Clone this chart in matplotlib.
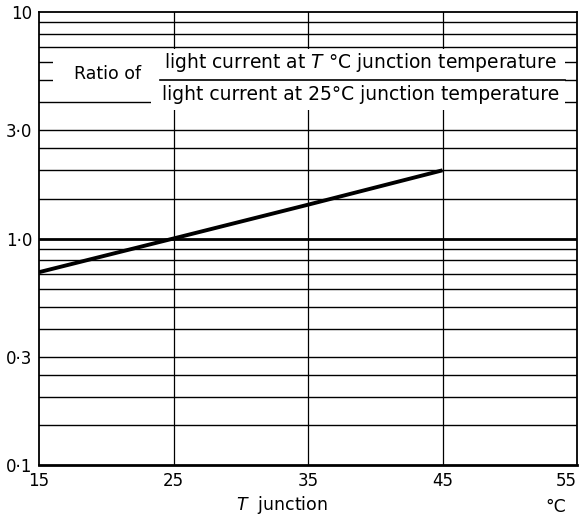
import matplotlib.pyplot as plt
from matplotlib.patches import Rectangle

# data
t_junction = [15, 25, 35, 45]
ratio = [0.71, 1.0, 1.41, 2.0]

grid_y = [0.15, 0.2, 0.25, 0.3, 0.4, 0.5, 0.6, 0.7, 0.8, 0.9,
          1.5, 2.0, 2.5, 3.0, 4.0, 5.0, 6.0, 7.0, 8.0, 9.0]
grid_x = [25, 35, 45]
x_ticks = [15, 25, 35, 45, 55]
x_labels = ["15", "25", "35", "45", "55"]
y_ticks = [0.1, 0.3, 1.0, 3.0, 10.0]
y_labels = ["0\u00b71", "0\u00b73", "1\u00b70", "3\u00b70", "10"]

plt.rcParams['font.family'] = ['DejaVu Sans']

fig = plt.figure(figsize=(5.79, 5.21), dpi=100)
ax = fig.add_axes([39 / 579, 1 - 465 / 521, 538 / 579, 453 / 521])
ax.set_yscale('log')
ax.set_xlim(15, 55)
ax.set_ylim(0.1, 10)

for y in grid_y:
    ax.axhline(y, color='black', lw=1.0, zorder=1)
ax.axhline(1.0, color='black', lw=2.0, zorder=1)
for x in grid_x:
    ax.axvline(x, color='black', lw=0.9, zorder=1)

# white patch behind the label, as in the original print
ax.add_patch(Rectangle((16.05, 4.45), 38.05, 6.9 - 4.45, facecolor='white',
                       edgecolor='none', zorder=2))
ax.add_patch(Rectangle((23.3, 3.7), 54.1 - 23.3, 4.6 - 3.7, facecolor='white',
                       edgecolor='none', zorder=2))

ax.plot(t_junction, ratio, color='black', lw=2.8, zorder=3, solid_capstyle='butt')

ax.text(17.6, 5.3, "Ratio of", fontsize=12.5, va='center', ha='left', zorder=4)
ax.text(53.5, 5.3, r"light current at $\it{T}$ °C junction temperature", fontsize=13.5,
        va='bottom', ha='right', zorder=4)
ax.text(53.7, 4.75, "light current at 25°C junction temperature", fontsize=13.5,
        va='top', ha='right', zorder=4)
ax.plot([24.0, 54.1], [5.0, 5.0], color='black', lw=1.2, zorder=4)

ax.set_xticks(x_ticks)
ax.set_xticklabels(x_labels, fontsize=12)
ax.get_xticklabels()[-1].set_ha('right')
ax.get_xticklabels()[-1].set_x(55)
ax.set_yticks(y_ticks)
ax.set_yticklabels(y_labels, fontsize=12)
ax.yaxis.set_minor_locator(plt.NullLocator())
ax.tick_params(length=0, pad=5)

for side in ['left', 'right', 'top']:
    ax.spines[side].set_linewidth(1.3)
ax.spines['bottom'].set_linewidth(2.0)

fig.text(282 / 579, 1 - 505 / 521, r"$\it{T}$  junction", fontsize=12.5, ha='center', va='center')
fig.text(556 / 579, 1 - 507 / 521, "°C", fontsize=12.5, ha='center', va='center')

fig.savefig("out.png", dpi=100)
